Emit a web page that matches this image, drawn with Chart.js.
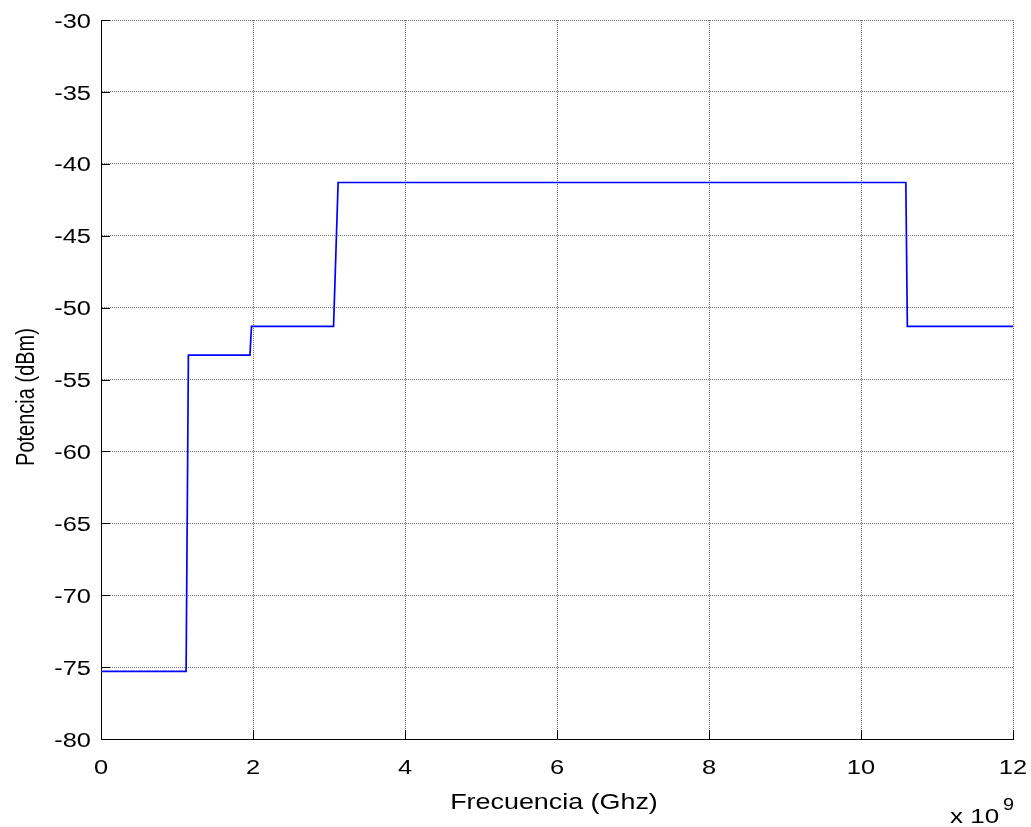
<!DOCTYPE html>
<html>
<head>
<meta charset="utf-8">
<title>Potencia vs Frecuencia</title>
<script src="https://cdn.jsdelivr.net/npm/chart.js@4/dist/chart.umd.min.js"></script>
<style>
  html, body { margin: 0; padding: 0; background: #ffffff; }
  #wrap { width: 1031px; height: 827px; }
</style>
</head>
<body>
<div id="wrap"><canvas id="c" width="1031" height="827"></canvas></div>
<script>
// Emission mask: frequency in units of 1e9 Hz, power in dBm
const freq  = [0, 1.12, 1.15, 1.96, 1.98, 3.06, 3.12, 10.59, 10.61, 12];
const power = [-75.3, -75.3, -53.3, -53.3, -51.3, -51.3, -41.3, -41.3, -51.3, -51.3];

const xTicks = [0, 2, 4, 6, 8, 10, 12];
const yTicks = [-80, -75, -70, -65, -60, -55, -50, -45, -40, -35, -30];
const xTickLabels = ['0', '2', '4', '6', '8', '10', '12'];
const yTickLabels = ['-80', '-75', '-70', '-65', '-60', '-55', '-50', '-45', '-40', '-35', '-30'];

const xTitle = 'Frecuencia (Ghz)';
const yTitle = 'Potencia (dBm)';
const xExponentBase = 'x 10';
const xExponent = '9';

const FONT = '"Liberation Sans", Arial, Helvetica, sans-serif';

function wideText(ctx, text, x, y, size, sx, align, baseline, rotate) {
  ctx.save();
  ctx.translate(x, y);
  ctx.scale(sx, 1);
  if (rotate) ctx.rotate(-Math.PI / 2);
  ctx.font = size + 'px ' + FONT;
  ctx.fillStyle = '#000000';
  ctx.textAlign = align;
  ctx.textBaseline = baseline;
  ctx.fillText(text, 0, 0);
  ctx.restore();
}

// Inward tick marks plus all axis lettering
const axisDecor = {
  id: 'axisDecor',
  afterDraw(chart) {
    const ctx = chart.ctx;
    const xs = chart.scales.x, ys = chart.scales.y;
    const a = chart.chartArea;

    ctx.save();
    ctx.strokeStyle = '#000000';
    ctx.lineWidth = 1;
    ctx.beginPath();
    xTicks.forEach(v => {
      const px = Math.round(xs.getPixelForValue(v)) + 0.5;
      ctx.moveTo(px, a.bottom);
      ctx.lineTo(px, a.bottom - 9);
    });
    yTicks.forEach(v => {
      const py = Math.round(ys.getPixelForValue(v)) + 0.5;
      ctx.moveTo(a.left, py);
      ctx.lineTo(a.left + 9, py);
    });
    ctx.stroke();
    ctx.restore();

    yTicks.forEach((v, i) => {
      wideText(ctx, yTickLabels[i], a.left - 10, ys.getPixelForValue(v) + 2, 20.5, 1.24, 'right', 'middle', false);
    });
    xTicks.forEach((v, i) => {
      wideText(ctx, xTickLabels[i], xs.getPixelForValue(v), 774, 20.5, 1.24, 'center', 'alphabetic', false);
    });

    wideText(ctx, xTitle, 554, 809, 21.5, 1.25, 'center', 'alphabetic', false);
    wideText(ctx, yTitle, 33.5, 397, 20, 1.25, 'center', 'alphabetic', true);

    wideText(ctx, xExponentBase, 950, 823, 21, 1.24, 'left', 'alphabetic', false);
    wideText(ctx, xExponent, 1003, 810, 16, 1.24, 'left', 'alphabetic', false);
  }
};

const gridStyle = {
  color: 'rgba(80,80,80,0.8)',
  lineWidth: 1,
  drawTicks: false
};

new Chart(document.getElementById('c'), {
  type: 'line',
  data: {
    datasets: [{
      data: freq.map((f, i) => ({ x: f, y: power[i] })),
      borderColor: '#0000ff',
      borderWidth: 1.7,
      pointRadius: 0,
      tension: 0,
      fill: false
    }]
  },
  options: {
    responsive: false,
    animation: false,
    devicePixelRatio: 1,
    layout: { padding: { left: 0, right: 18, top: 20, bottom: 0 } },
    plugins: { legend: { display: false }, tooltip: { enabled: false } },
    scales: {
      x: {
        type: 'linear',
        min: 0, max: 12,
        afterBuildTicks: s => { s.ticks = xTicks.map(v => ({ value: v })); },
        afterFit: s => { s.height = 88; },
        ticks: { display: false },
        grid: gridStyle,
        border: { display: true, color: '#000000', width: 1, dash: [1, 1] }
      },
      y: {
        type: 'linear',
        min: -80, max: -30,
        afterBuildTicks: s => { s.ticks = yTicks.map(v => ({ value: v })); },
        afterFit: s => { s.width = 101; },
        ticks: { display: false },
        grid: gridStyle,
        border: { display: true, color: '#000000', width: 1, dash: [1, 1] }
      }
    }
  },
  plugins: [axisDecor]
});
</script>
</body>
</html>
